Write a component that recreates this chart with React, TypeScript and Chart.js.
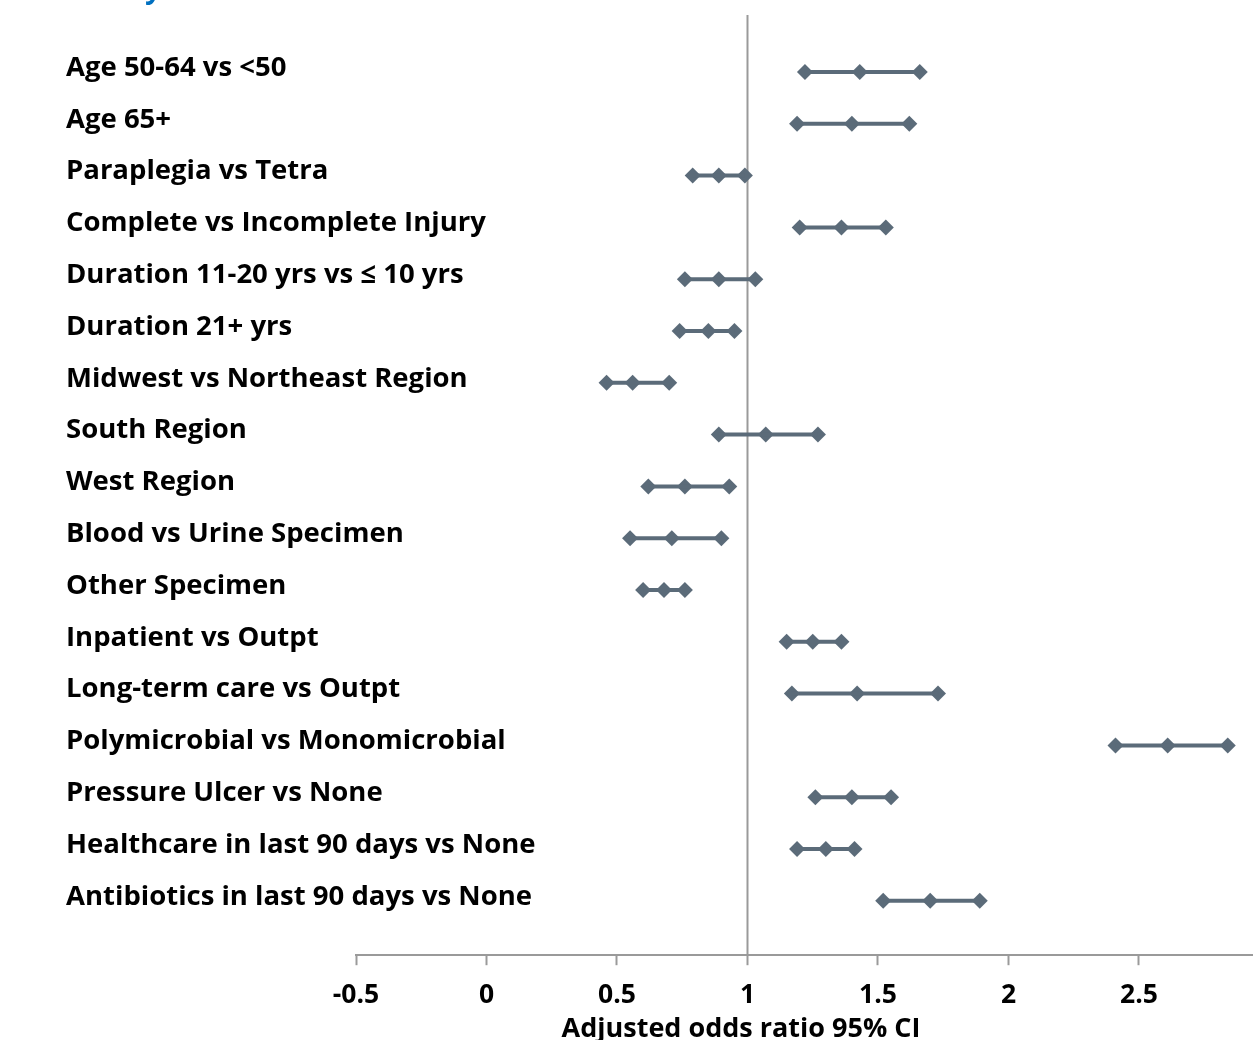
import React, { useEffect, useRef } from "react";
import { Chart, registerables } from "chart.js";

Chart.register(...registerables);

const rowLabels = [
  "Age 50-64 vs <50",
  "Age 65+",
  "Paraplegia vs Tetra",
  "Complete vs Incomplete Injury",
  "Duration 11-20 yrs vs \u2264 10 yrs",
  "Duration 21+ yrs",
  "Midwest vs Northeast Region",
  "South Region",
  "West Region",
  "Blood vs Urine Specimen",
  "Other Specimen",
  "Inpatient vs Outpt",
  "Long-term care vs Outpt",
  "Polymicrobial vs Monomicrobial",
  "Pressure Ulcer vs None",
  "Healthcare in last 90 days vs None",
  "Antibiotics in last 90 days vs None",
];

const lowerCI = [1.22, 1.19, 0.79, 1.2, 0.76, 0.74, 0.46, 0.89, 0.62, 0.55, 0.6, 1.15, 1.17, 2.41, 1.26, 1.19, 1.52];
const oddsRatio = [1.43, 1.4, 0.89, 1.36, 0.89, 0.85, 0.56, 1.07, 0.76, 0.71, 0.68, 1.25, 1.42, 2.61, 1.4, 1.3, 1.7];
const upperCI = [1.66, 1.62, 0.99, 1.53, 1.03, 0.95, 0.7, 1.27, 0.93, 0.9, 0.76, 1.36, 1.73, 2.84, 1.55, 1.41, 1.89];

const xTickValues = [-0.5, 0, 0.5, 1, 1.5, 2, 2.5];
const xMin = -0.5;
const xMax = 2.933;
const referenceValue = 1;
const axisTitle = "Adjusted odds ratio 95% CI";

const markColor = "#5B6B79";
const gridGray = "#9A9A9A";
const fontFamily = "'Open Sans', 'Noto Sans', sans-serif";

export default function App() {
  const canvasRef = useRef<HTMLCanvasElement | null>(null);

  useEffect(() => {
    const canvas = canvasRef.current;
    if (!canvas) return;

    const lineDatasets = rowLabels.map((_, i) => ({
      type: "line" as const,
      data: [
        { x: lowerCI[i], y: i },
        { x: upperCI[i], y: i },
      ],
      borderColor: markColor,
      borderWidth: 4,
      pointRadius: 0,
      showLine: true,
      fill: false,
    }));

    const pointData: { x: number; y: number }[] = [];
    rowLabels.forEach((_, i) => {
      pointData.push({ x: lowerCI[i], y: i });
      pointData.push({ x: oddsRatio[i], y: i });
      pointData.push({ x: upperCI[i], y: i });
    });

    const overlay = {
      id: "forestOverlay",
      beforeDatasetsDraw(chart: any) {
        const { ctx, chartArea, scales } = chart;
        const x = scales.x.getPixelForValue(referenceValue);
        ctx.save();
        ctx.strokeStyle = gridGray;
        ctx.lineWidth = 2;
        ctx.beginPath();
        ctx.moveTo(x, chartArea.top);
        ctx.lineTo(x, chartArea.bottom);
        ctx.stroke();
        ctx.restore();
      },
      afterDraw(chart: any) {
        const { ctx, scales } = chart;
        ctx.save();
        ctx.fillStyle = "#000";
        ctx.font = `bold 27.5px ${fontFamily}`;
        ctx.textAlign = "left";
        ctx.textBaseline = "middle";
        rowLabels.forEach((lab, i) => {
          const y = scales.y.getPixelForValue(i) - 4;
          ctx.fillText(lab, 66, y);
        });
        ctx.font = `bold 27px ${fontFamily}`;
        ctx.textAlign = "center";
        ctx.fillText(axisTitle, scales.x.getPixelForValue(0.975), 1029);
        ctx.fillStyle = "#0070C0";
        ctx.font = `italic bold 28px ${fontFamily}`;
        ctx.textAlign = "left";
        ctx.textBaseline = "alphabetic";
        ctx.fillText("y", 148, -2);
        ctx.restore();
      },
    };

    const chart = new Chart(canvas, {
      type: "scatter",
      data: {
        datasets: [
          ...lineDatasets,
          {
            type: "scatter" as const,
            data: pointData,
            pointStyle: "rectRot",
            pointRadius: 8,
            pointBackgroundColor: markColor,
            pointBorderColor: markColor,
            pointBorderWidth: 0,
            showLine: false,
          },
        ] as any,
      },
      options: {
        animation: false,
        responsive: false,
        maintainAspectRatio: false,
        events: [],
        layout: { autoPadding: false, padding: { left: 356, right: 2, top: 15, bottom: 15 } },
        plugins: { legend: { display: false }, tooltip: { enabled: false }, title: { display: false } },
        scales: {
          x: {
            type: "linear",
            min: xMin,
            max: xMax,
            afterBuildTicks: (scale: any) => {
              scale.ticks = xTickValues.map((v) => ({ value: v }));
            },
            grid: {
              drawOnChartArea: false,
              drawTicks: true,
              tickLength: 10,
              tickWidth: 2,
              color: gridGray,
            },
            border: { display: true, color: gridGray, width: 2 },
            ticks: {
              color: "#000",
              padding: 14,
              font: { family: fontFamily, size: 26.5, weight: "bold" },
              callback: (v: any) => String(v),
            },
          },
          y: {
            type: "linear",
            reverse: true,
            min: -1.1,
            max: 17.05,
            display: false,
          },
        },
      } as any,
      plugins: [overlay],
    });

    return () => chart.destroy();
  }, []);

  return (
    <div style={{ position: "fixed", left: 0, top: 0, width: 1254, height: 1040, overflow: "hidden", background: "#fff" }}>
      <canvas ref={canvasRef} width={1254} height={1040} style={{ width: 1254, height: 1040, display: "block" }} />
    </div>
  );
}
